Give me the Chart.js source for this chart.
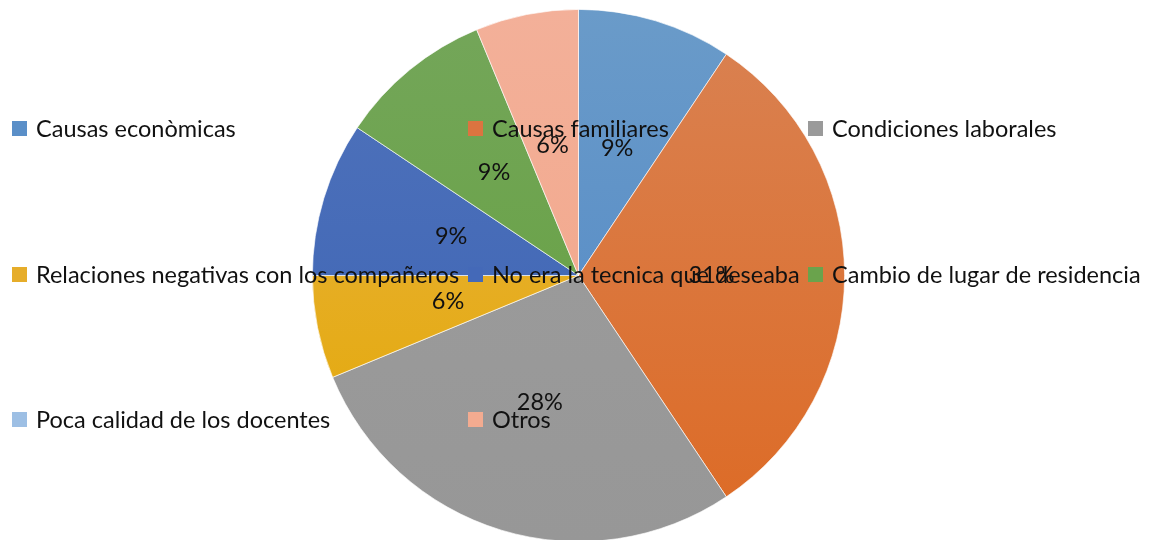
<!DOCTYPE html>
<html>
<head>
<meta charset="utf-8">
<script src="https://cdn.jsdelivr.net/npm/chart.js"></script>
<style>
  html, body { margin: 0; padding: 0; background: #fff; overflow: hidden; }
  #wrap { position: relative; width: 1157px; height: 542px; }
</style>
</head>
<body>
<div id="wrap"><canvas id="pieChart"></canvas></div>
<script>
// data (counts, total 32)
const categories = [
    'Causas econòmicas',
    'Causas familiares',
    'Condiciones laborales',
    'Relaciones negativas con los compañeros',
    'No era la tecnica que deseaba',
    'Cambio de lugar de residencia',
    'Poca calidad de los docentes',
    'Otros'
];
const counts = [3, 10, 9, 2, 3, 3, 0, 2];

// colours: lighter at the top of the pie, deeper at the bottom
const topColors = ['#6a9bc9', '#d98253', '#9d9d9d', '#eab447', '#5073bb', '#74a65a', '#a3c3e4', '#f3b099'];
const bottomColors = ['#4f86c6', '#dd6a24', '#979797', '#e2a700', '#3a62b4', '#63a03c', '#93b9e2', '#f2a587'];
const legendColors = ['#5a8fc8', '#dc7440', '#9a9a9a', '#e6ad2a', '#4469b8', '#6aa34c', '#9dbfe4', '#f3ab90'];

const fontFamily = 'Lato, "Open Sans", sans-serif';
const total = counts.reduce((a, b) => a + b, 0);

function sliceFill(c) {
    const chart = c.chart;
    const area = chart.chartArea;
    if (!area) return legendColors[c.dataIndex];
    const g = chart.ctx.createLinearGradient(0, area.top, 0, area.bottom);
    g.addColorStop(0, topColors[c.dataIndex]);
    g.addColorStop(1, bottomColors[c.dataIndex]);
    return g;
}

// legend drawn over the whole canvas, 3 columns x 3 rows, like the original
const overlayLegend = {
    id: 'overlayLegend',
    afterDatasetsDraw(chart) {
        const ctx = chart.ctx;
        const colX = [12, 468, 808];
        const rowY = [128, 274, 419];
        ctx.save();
        ctx.font = '23.5px ' + fontFamily;
        ctx.textBaseline = 'middle';
        ctx.textAlign = 'left';
        categories.forEach((name, i) => {
            const x = colX[i % 3];
            const y = rowY[Math.floor(i / 3)];
            ctx.fillStyle = legendColors[i];
            ctx.fillRect(x, y - 7, 15, 15);
            ctx.fillStyle = '#111';
            ctx.fillText(name, x + 24, y + 1);
        });
        ctx.restore();
    }
};

// percentage labels at half radius
const pctLabels = {
    id: 'pctLabels',
    afterDraw(chart) {
        const ctx = chart.ctx;
        const meta = chart.getDatasetMeta(0);
        ctx.save();
        ctx.font = '23.5px ' + fontFamily;
        ctx.fillStyle = '#111';
        ctx.textAlign = 'center';
        ctx.textBaseline = 'middle';
        meta.data.forEach((arc, i) => {
            if (!counts[i]) return;
            const p = arc.getProps(['x', 'y', 'startAngle', 'endAngle', 'outerRadius'], true);
            const mid = (p.startAngle + p.endAngle) / 2;
            const r = p.outerRadius * 0.5;
            const pct = Math.round(counts[i] / total * 100) + '%';
            ctx.fillText(pct, p.x + Math.cos(mid) * r, p.y + Math.sin(mid) * r);
        });
        ctx.restore();
    }
};

new Chart(document.getElementById('pieChart'), {
    type: 'pie',
    data: {
        labels: categories,
        datasets: [{
            data: counts,
            backgroundColor: sliceFill,
            borderColor: 'rgba(255,255,255,0.8)',
            borderWidth: 0.8
        }]
    },
    options: {
        responsive: true,
        maintainAspectRatio: false,
        animation: false,
        events: [],
        layout: { padding: { top: 9, bottom: 0, left: 0, right: 0 } },
        plugins: {
            legend: { display: false },
            tooltip: { enabled: false }
        }
    },
    plugins: [overlayLegend, pctLabels]
});
</script>
</body>
</html>
